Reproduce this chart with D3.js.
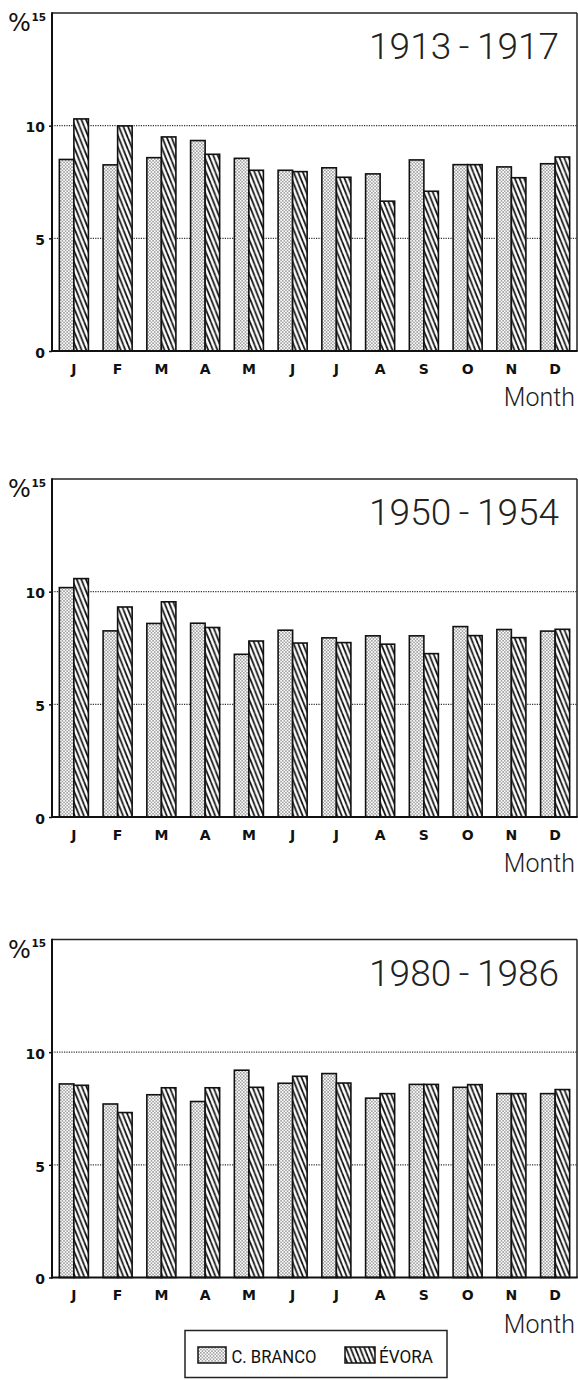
<!DOCTYPE html>
<html>
<head>
<meta charset="utf-8">
<script src="https://cdn.jsdelivr.net/npm/d3@7"></script>
<style>
  html, body { margin: 0; padding: 0; background: #fff; }
  svg { display: block; }
</style>
</head>
<body>
<svg id="chart" width="578" height="1380"></svg>
<script>
// ---- data ----
const months = ["J","F","M","A","M","J","J","A","S","O","N","D"];
const seriesNames = ["C. BRANCO", "ÉVORA"];
const periods = ["1913-1917", "1950-1954", "1980-1986"];
const cBranco1913 = [8.50, 8.26, 8.58, 9.34, 8.55, 8.02, 8.13, 7.86, 8.48, 8.27, 8.17, 8.31];
const evora1913   = [10.30, 9.99, 9.50, 8.73, 8.02, 7.96, 7.71, 6.65, 7.09, 8.27, 7.69, 8.61];
const cBranco1950 = [10.18, 8.26, 8.59, 8.60, 7.22, 8.29, 7.95, 8.04, 8.04, 8.45, 8.32, 8.25];
const evora1950   = [10.58, 9.32, 9.55, 8.41, 7.81, 7.72, 7.74, 7.67, 7.25, 8.05, 7.96, 8.33];
const cBranco1980 = [8.59, 7.70, 8.11, 7.81, 9.20, 8.62, 9.05, 7.96, 8.57, 8.44, 8.16, 8.16];
const evora1980   = [8.53, 7.32, 8.42, 8.42, 8.44, 8.93, 8.63, 8.16, 8.57, 8.56, 8.16, 8.34];
const yTicks = [0, 5, 10];
const yMax = 15;
const xLabel = "Month";

const panelsData = [
  { title: periods[0], cb: cBranco1913, ev: evora1913 },
  { title: periods[1], cb: cBranco1950, ev: evora1950 },
  { title: periods[2], cb: cBranco1980, ev: evora1980 }
];

// ---- layout ----
const svg = d3.select("#chart");
const left = 52, right = 577;
const panelTops = [13, 479, 939.5];
const panelH = 338;
const boldFont = "'DejaVu Sans', 'Liberation Sans', Arial, sans-serif";
const lightFont = "Roboto, 'Open Sans', 'Liberation Sans', sans-serif";

const defs = svg.append("defs");
// dotted fill
const dots = defs.append("pattern").attr("id", "dots")
  .attr("patternUnits", "userSpaceOnUse").attr("width", 3.2).attr("height", 3.2);
dots.append("rect").attr("width", 3.2).attr("height", 3.2).attr("fill", "#fff");
dots.append("circle").attr("cx", 0.8).attr("cy", 0.8).attr("r", 0.65).attr("fill", "#2a2a2a");
dots.append("circle").attr("cx", 2.4).attr("cy", 2.4).attr("r", 0.65).attr("fill", "#2a2a2a");
// hatch fill (backslash)
const hw = 4.6, hh = 11.5;
const hatch = defs.append("pattern").attr("id", "hatch")
  .attr("patternUnits", "userSpaceOnUse").attr("width", hw).attr("height", hh);
hatch.append("rect").attr("width", hw).attr("height", hh).attr("fill", "#fff");
hatch.append("path")
  .attr("d", `M${-hw},0 L0,${hh} M0,0 L${hw},${hh} M${hw},0 L${2*hw},${hh}`)
  .attr("stroke", "#111").attr("stroke-width", 1.75);

const fills = ["url(#dots)", "url(#hatch)"];

const x0 = d3.scaleBand().domain(d3.range(months.length)).range([left, right]).paddingInner(0).paddingOuter(0);
const bw = x0.bandwidth();
const x1 = d3.scaleBand().domain([0, 1]).range([bw * 0.168, bw * 0.832]).padding(0);

panelsData.forEach((p, pi) => {
  const top = panelTops[pi];
  const zero = top + panelH;
  const y = d3.scaleLinear().domain([0, yMax]).range([zero, top]);
  const g = svg.append("g");

  // gridlines (dotted)
  g.selectAll(".grid").data([5, 10]).enter().append("line")
    .attr("x1", left).attr("x2", right)
    .attr("y1", d => y(d)).attr("y2", d => y(d))
    .attr("stroke", "#333").attr("stroke-width", 1.2)
    .attr("stroke-dasharray", "1.2,1.2");

  // bars
  const groups = g.selectAll(".grp").data(months.map((m, i) => i)).enter().append("g")
    .attr("transform", i => `translate(${x0(i)},0)`);
  groups.selectAll("rect").data(i => [p.cb[i], p.ev[i]].map((v, s) => ({ v, s })))
    .enter().append("rect")
    .attr("x", d => x1(d.s))
    .attr("y", d => y(d.v))
    .attr("width", x1.bandwidth())
    .attr("height", d => y(0) - y(d.v))
    .attr("fill", d => fills[d.s])
    .attr("stroke", "#111").attr("stroke-width", 1.6);

  // frame
  g.append("line").attr("x1", left).attr("x2", right).attr("y1", top).attr("y2", top)
    .attr("stroke", "#222").attr("stroke-width", 1.5);
  g.append("line").attr("x1", right).attr("x2", right).attr("y1", top).attr("y2", zero)
    .attr("stroke", "#222").attr("stroke-width", 1.5);
  g.append("line").attr("x1", left).attr("x2", left).attr("y1", top - 0.7).attr("y2", zero + 1)
    .attr("stroke", "#111").attr("stroke-width", 2);
  g.append("line").attr("x1", left - 1).attr("x2", right + 0.7).attr("y1", zero).attr("y2", zero)
    .attr("stroke", "#111").attr("stroke-width", 2);

  // y axis ticks
  const yAxis = d3.axisLeft(y).tickValues(yTicks).tickSize(3).tickPadding(4).tickFormat(d3.format("d"));
  const ya = g.append("g").attr("transform", `translate(${left},0)`).call(yAxis);
  ya.select(".domain").remove();
  ya.selectAll(".tick line").attr("stroke", "#111").attr("stroke-width", 1.5);
  ya.selectAll(".tick text")
    .attr("font-family", boldFont)
    .attr("font-weight", "bold").attr("font-size", 14).attr("fill", "#111")
    .attr("dy", "0.45em");

  // % and 15 label
  g.append("text").attr("x", 8).attr("y", top + 18)
    .attr("font-family", "'DejaVu Sans', sans-serif")
    .attr("font-size", 24).attr("fill", "#111").text("%");
  g.append("text").attr("x", 46).attr("y", top + 7.5).attr("text-anchor", "end")
    .attr("font-family", boldFont).attr("font-weight", "bold")
    .attr("font-size", 10.5).attr("fill", "#111").text(yMax);

  // x axis labels
  const xAxis = d3.axisBottom(x0).tickSize(0).tickPadding(13).tickFormat(i => months[i]);
  const xa = g.append("g").attr("transform", `translate(0,${zero})`).call(xAxis);
  xa.select(".domain").remove();
  xa.selectAll(".tick text")
    .attr("font-family", boldFont)
    .attr("font-weight", "bold").attr("font-size", 14).attr("fill", "#111");

  // x label "Month"
  g.append("text").attr("x", 575).attr("y", zero + 55).attr("text-anchor", "end")
    .attr("font-family", lightFont).attr("font-weight", 300)
    .attr("font-size", 25).attr("fill", "#222").text(xLabel);

  // period title
  g.append("text").attr("x", 559).attr("y", top + 46).attr("text-anchor", "end")
    .attr("font-family", lightFont).attr("font-weight", 300)
    .attr("font-size", 37).attr("fill", "#222")
    .text(p.title.replace("-", "\u2009-\u2009"));
});

// ---- legend ----
const lg = svg.append("g");
lg.append("rect").attr("x", 185).attr("y", 1330.5).attr("width", 262).attr("height", 47)
  .attr("fill", "#fff").attr("stroke", "#222").attr("stroke-width", 1.5);
const legendItems = [
  { name: seriesNames[0], sx: 198, sw: 28, tx: 231.5, tw: 85 },
  { name: seriesNames[1], sx: 345, sw: 30, tx: 379, tw: 54 }
];
legendItems.forEach((it, i) => {
  lg.append("rect").attr("x", it.sx).attr("y", 1347).attr("width", it.sw).attr("height", 16)
    .attr("fill", fills[i]).attr("stroke", "#111").attr("stroke-width", 1.5);
  lg.append("text").attr("x", it.tx).attr("y", 1363)
    .attr("font-family", lightFont).attr("font-size", 18)
    .attr("fill", "#111").attr("textLength", it.tw).attr("lengthAdjust", "spacingAndGlyphs")
    .text(it.name);
});
</script>
</body>
</html>
